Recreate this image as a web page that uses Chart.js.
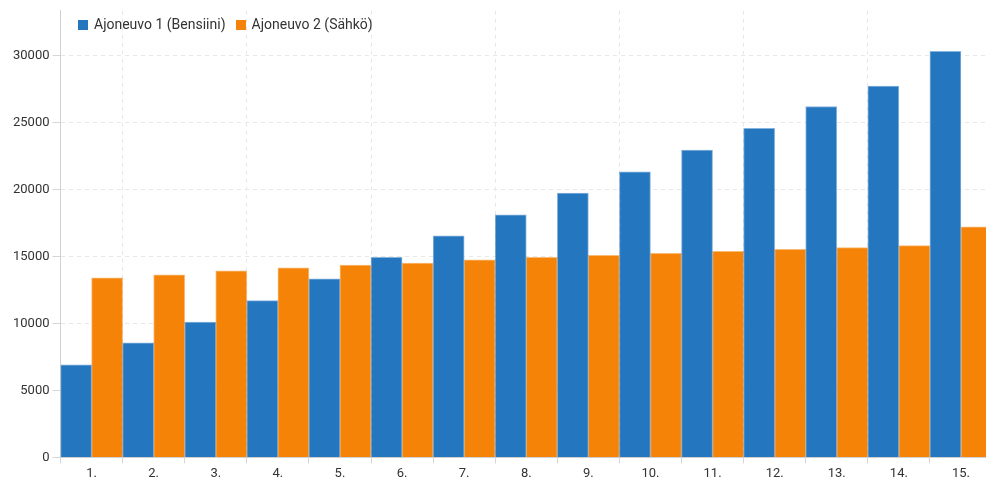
<!DOCTYPE html>
<html lang="fi">

<head>
    <meta charset="UTF-8" />
    <title>Ajoneuvojen kustannukset</title>
    <script src="https://cdn.jsdelivr.net/npm/chart.js"></script>
    <style>
        html, body { margin: 0; padding: 0; overflow: hidden; background: #fff; }
        #wrap { width: 1002px; height: 495px; position: relative; }
        #selite {
            position: absolute; left: 78px; top: 16px;
            font: 14px Roboto, sans-serif; color: #333;
            display: flex; gap: 10px; line-height: 17px;
        }
        #selite span.nelio {
            display: inline-block; width: 10px; height: 10px;
            margin-right: 6px; vertical-align: -1px;
        }
    </style>
</head>

<body>
    <div id="wrap">
        <canvas id="kaavio"></canvas>
        <div id="selite"></div>
    </div>

    <script>
        // vuodet 1.-15.
        const vuodet = ['1.', '2.', '3.', '4.', '5.', '6.', '7.', '8.', '9.', '10.', '11.', '12.', '13.', '14.', '15.'];

        const bensiini = [6900, 8550, 10100, 11700, 13320, 14930, 16540, 18100, 19720, 21320, 22940, 24550, 26190, 27720, 30300];
        const sahko = [13400, 13620, 13920, 14140, 14360, 14510, 14740, 14930, 15080, 15230, 15380, 15530, 15650, 15800, 17210];

        const yTicks = [0, 5000, 10000, 15000, 20000, 25000, 30000];

        const teksti = '#333';
        const ruudukko = '#e8e8e8';

        Chart.defaults.font.family = 'Roboto';
        Chart.defaults.font.size = 13;
        Chart.defaults.color = teksti;

        const kaavio = new Chart(document.getElementById('kaavio'), {
            type: 'bar',
            data: {
                labels: vuodet,
                datasets: [
                    {
                        label: 'Ajoneuvo 1 (Bensiini)',
                        data: bensiini,
                        backgroundColor: '#2476bf',
                        borderColor: 'rgba(36,118,191,0.55)',
                        borderWidth: 1
                    },
                    {
                        label: 'Ajoneuvo 2 (Sähkö)',
                        data: sahko,
                        backgroundColor: '#f58307',
                        borderColor: 'rgba(245,131,7,0.55)',
                        borderWidth: 1
                    }
                ]
            },
            options: {
                responsive: true,
                maintainAspectRatio: false,
                animation: false,
                layout: { padding: { top: 10, left: 10, right: 10, bottom: 10 } },
                datasets: {
                    bar: { barPercentage: 1, categoryPercentage: 1 }
                },
                plugins: {
                    legend: { display: false },
                    tooltip: { enabled: false }
                },
                scales: {
                    x: {
                        grid: {
                            color: c => (c.index % 2 === 1 ? ruudukko : 'transparent'),
                            tickColor: '#d6d6d6',
                            tickLength: 6
                        },
                        border: { color: '#d0d0d0', dash: [4, 4] },
                        ticks: { padding: 3 }
                    },
                    y: {
                        min: 0,
                        max: 33330,
                        grid: { color: ruudukko, tickColor: '#d6d6d6' },
                        border: { color: '#d0d0d0', dash: [4, 4] },
                        afterBuildTicks: ax => { ax.ticks = yTicks.map(v => ({ value: v })); },
                        ticks: { padding: 3, callback: v => String(v) }
                    }
                }
            }
        });

        // selite html:nä, koska se piirretään kuvaajan päälle
        const selite = document.getElementById('selite');
        kaavio.data.datasets.forEach(ds => {
            const rivi = document.createElement('div');
            rivi.innerHTML = `<span class="nelio" style="background:${ds.backgroundColor}"></span>${ds.label}`;
            selite.appendChild(rivi);
        });
    </script>
</body>

</html>
